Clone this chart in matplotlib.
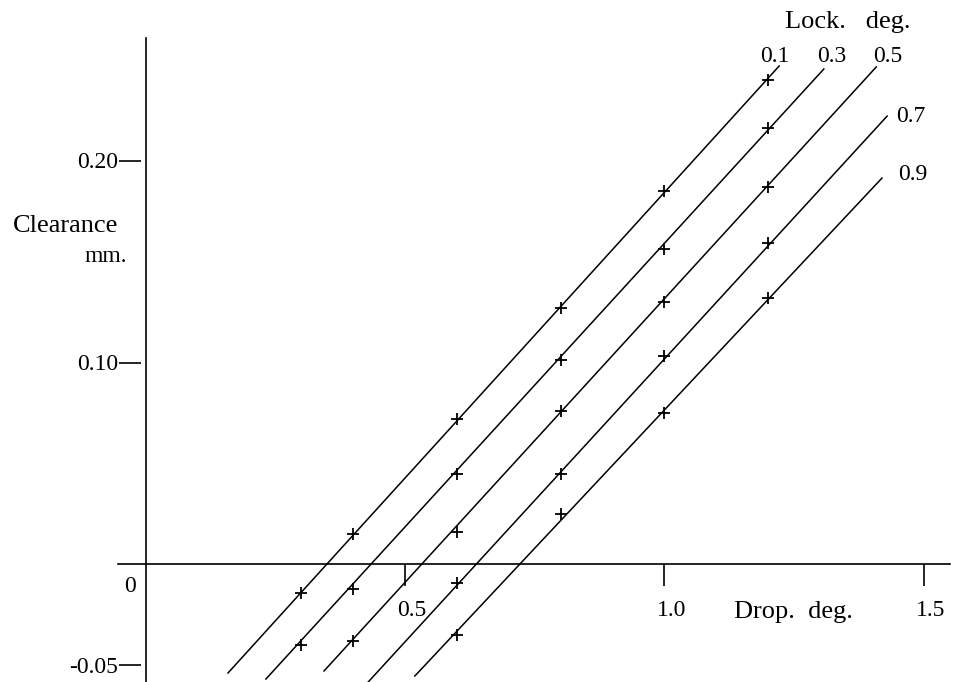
import numpy as np
import matplotlib.pyplot as plt

plt.rcParams['font.family'] = ['Liberation Serif', 'DejaVu Serif']

# lock angle of each line (deg.)
lock = ['0.1', '0.3', '0.5', '0.7', '0.9']

# measured points: drop (deg.) and clearance (mm.)
drop_01 = [0.3, 0.4, 0.6, 0.8, 1.0, 1.2]
clear_01 = [-0.014, 0.015, 0.072, 0.127, 0.185, 0.240]
drop_03 = [0.3, 0.4, 0.6, 0.8, 1.0, 1.2]
clear_03 = [-0.040, -0.012, 0.045, 0.101, 0.156, 0.216]
drop_05 = [0.4, 0.6, 0.8, 1.0, 1.2]
clear_05 = [-0.038, 0.016, 0.076, 0.130, 0.187]
drop_07 = [0.6, 0.8, 1.0, 1.2]
clear_07 = [-0.009, 0.045, 0.103, 0.159]
drop_09 = [0.6, 0.8, 1.0, 1.2]
clear_09 = [-0.035, 0.025, 0.075, 0.132]

# ends of the drawn straight lines
line_x0 = [0.159, 0.232, 0.344, 0.429, 0.519]
line_y0 = [-0.0537, -0.0567, -0.0527, -0.0582, -0.0552]
line_x1 = [1.221, 1.307, 1.408, 1.429, 1.419]
line_y1 = [0.2468, 0.2453, 0.2463, 0.2220, 0.1913]

xticks = [0.5, 1.0, 1.5]
xtick_labels = ['0.5', '1.0', '1.5']
yticks = [0.20, 0.10, -0.05]
ytick_labels = ['0.20', '0.10', '-0.05']

W, H = 960, 682
fig = plt.figure(figsize=(W / 100, H / 100), dpi=100)
ax = fig.add_axes([0, 0, 1, 1])
ax.set_xlim(-0.28035, 1.56937)
ax.set_ylim(-0.05817, 0.27946)
ax.axis('off')

# axes drawn by hand
ax.plot([-0.053, 1.550], [0, 0], color='black', lw=1.2)
ax.plot([0, 0], [-0.06, 0.2606], color='black', lw=1.2)
ax.vlines(xticks, -0.0107, 0, color='black', lw=1.2)
ax.hlines(yticks, -0.051, -0.009, color='black', lw=1.2)

drops = [drop_01, drop_03, drop_05, drop_07, drop_09]
clears = [clear_01, clear_03, clear_05, clear_07, clear_09]
for i in range(len(lock)):
    ax.plot([line_x0[i], line_x1[i]], [line_y0[i], line_y1[i]], color='black', lw=1.1)
    ax.plot(drops[i], clears[i], ls='none', marker='+', color='black', ms=9, mew=1.3)

fs = 17

def t(x, y, s, ha='center', size=fs):
    fig.text(x / W, 1 - y / H, s, ha=ha, va='center', fontsize=size)

# tick labels
for v, s in zip(xticks, xtick_labels):
    px = 145.5 + 519 * v
    t(px + 7, 610, s)
for v, s in zip(yticks, ytick_labels):
    py = 564.5 - 2020 * v
    t(118, py + 2, s, ha='right')
t(130, 587, '0')

t(793, 612, 'Drop.  deg.', size=19)
t(118, 226, 'Clearance', ha='right', size=19)
t(127, 256, 'mm.', ha='right')
t(848, 22, 'Lock.   deg.', size=19)

label_pos = [(775, 57), (832, 57), (888, 57), (911, 116), (913, 175)]
for (x, y), s in zip(label_pos, lock):
    t(x, y, s)

fig.savefig('out.png', dpi=100)
